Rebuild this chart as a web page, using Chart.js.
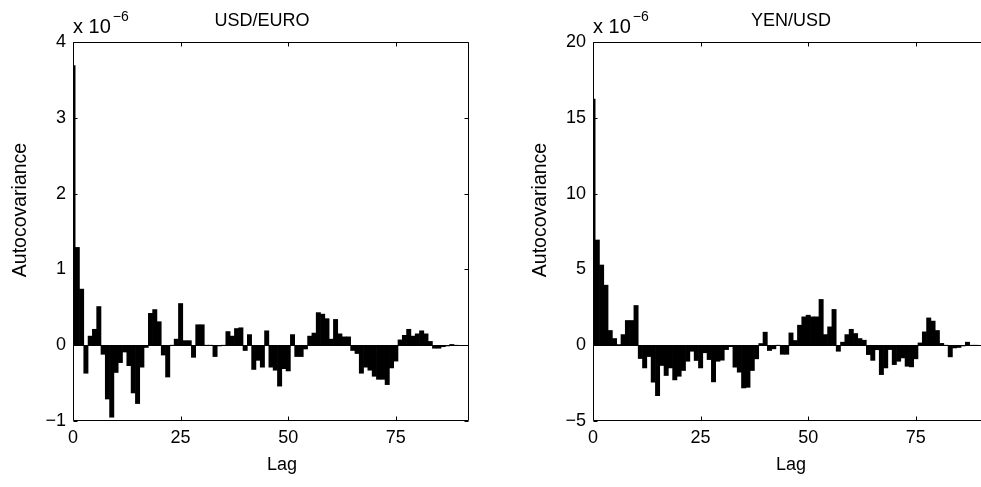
<!DOCTYPE html>
<html>
<head>
<meta charset="utf-8">
<script src="https://cdn.jsdelivr.net/npm/chart.js@4"></script>
<style>
  html, body { margin: 0; padding: 0; background: #fff; overflow: hidden; }
  body { width: 981px; height: 487px; position: relative; }
  canvas { position: absolute; top: 0; }
  #chart-left { left: 0; }
  #chart-right { left: 520px; }
</style>
</head>
<body>
<canvas id="chart-left" width="490" height="487"></canvas>
<canvas id="chart-right" width="490" height="487"></canvas>
<script>
// lag numbers (x axis)
const lags = [
  0, 1, 2, 3, 4, 5, 6, 7, 8, 9, 10, 11, 12, 13, 14, 15, 16, 17, 18, 19,
  20, 21, 22, 23, 24, 25, 26, 27, 28, 29, 30, 31, 32, 33, 34, 35, 36, 37, 38, 39,
  40, 41, 42, 43, 44, 45, 46, 47, 48, 49, 50, 51, 52, 53, 54, 55, 56, 57, 58, 59,
  60, 61, 62, 63, 64, 65, 66, 67, 68, 69, 70, 71, 72, 73, 74, 75, 76, 77, 78, 79,
  80, 81, 82, 83, 84, 85, 86, 87, 88, 89
];

// autocovariance, in units of 1e-6
const usdEuro = [
  3.69, 1.29, 0.74, -0.37, 0.12, 0.21, 0.51, -0.12, -0.71, -0.95,
  -0.36, -0.23, -0.09, -0.27, -0.63, -0.77, -0.29, -0.03, 0.42, 0.47,
  0.31, -0.13, -0.42, 0.00, 0.08, 0.55, 0.06, 0.06, -0.16, 0.27,
  0.27, 0.00, 0.00, -0.15, -0.01, 0.00, 0.18, 0.12, 0.22, 0.23,
  -0.07, 0.14, -0.32, -0.20, -0.29, 0.19, -0.29, -0.33, -0.54, -0.31,
  -0.34, 0.14, -0.15, -0.15, -0.05, 0.12, 0.16, 0.43, 0.41, 0.35,
  0.08, 0.34, 0.15, 0.11, 0.11, -0.07, -0.11, -0.37, -0.29, -0.33,
  -0.41, -0.45, -0.45, -0.52, -0.30, -0.21, 0.07, 0.13, 0.21, 0.12,
  0.15, 0.19, 0.15, 0.05, -0.04, -0.04, -0.02, -0.01, 0.01, 0.00
];

const yenUsd = [
  16.23, 6.94, 5.29, 3.96, 0.97, 0.44, 0.04, 0.70, 1.63, 1.63,
  2.62, -0.88, -1.50, -0.75, -2.44, -3.33, -1.34, -2.00, -1.50, -2.29,
  -2.05, -1.67, -1.06, -0.40, -1.01, -1.50, -0.50, -0.95, -2.42, -1.06,
  -0.99, -0.29, -0.10, -1.45, -1.78, -2.82, -2.78, -1.67, -0.90, 0.11,
  0.86, -0.35, -0.24, 0.00, -0.60, -0.60, 0.81, 0.31, 1.32, 1.87,
  1.98, 1.87, 1.87, 3.02, 0.70, 1.21, 2.36, -0.40, 0.20, 0.70,
  1.05, 0.77, 0.44, 0.33, -0.62, -1.00, -0.30, -1.94, -1.50, -0.29,
  -1.28, -1.06, -0.84, -1.39, -1.43, -0.90, 0.15, 0.88, 1.80, 1.59,
  0.97, 0.12, 0.00, -0.77, -0.18, -0.15, -0.05, 0.20, 0.00, 0.00
];

// tick labels
const lagTicks = [0, 25, 50, 75];
const usdEuroTicks = [-1, 0, 1, 2, 3, 4];
const yenUsdTicks = [-5, 0, 5, 10, 15, 20];

const FONT = '"Liberation Sans", Arial, Helvetica, sans-serif';
Chart.defaults.font.family = FONT;
Chart.defaults.font.size = 18;
Chart.defaults.color = '#000';

const minus = v => String(v).replace('-', '\u2212');

// MATLAB style box: border, inward ticks, exponent, title and axis labels
const axesBox = {
  id: 'axesBox',
  afterDraw(chart, args, opts) {
    const { ctx, chartArea: a, scales: { x, y } } = chart;
    const l = Math.round(a.left) + 0.5, r = Math.round(a.right) - 0.5;
    const t = Math.round(a.top) + 0.5, b = Math.round(a.bottom) - 0.5;
    const len = 4;
    ctx.save();
    ctx.strokeStyle = '#000';
    ctx.lineWidth = 1;
    ctx.beginPath();
    ctx.rect(l, t, r - l, b - t);
    x.ticks.forEach(tk => {
      const px = Math.round(x.getPixelForValue(tk.value)) + 0.5;
      ctx.moveTo(px, b); ctx.lineTo(px, b - len);
      ctx.moveTo(px, t); ctx.lineTo(px, t + len);
    });
    y.ticks.forEach(tk => {
      const py = Math.round(y.getPixelForValue(tk.value)) + 0.5;
      ctx.moveTo(l, py); ctx.lineTo(l + len, py);
      ctx.moveTo(r, py); ctx.lineTo(r - len, py);
    });
    ctx.stroke();

    ctx.fillStyle = '#000';
    ctx.textAlign = 'left';
    ctx.textBaseline = 'alphabetic';
    ctx.font = '20px ' + FONT;
    ctx.fillText('x 10', a.left, 33);
    const w = ctx.measureText('x 10').width;
    ctx.font = '14px ' + FONT;
    ctx.fillText('\u22126', a.left + w + 2, 21);

    ctx.font = '18px ' + FONT;
    ctx.textAlign = 'center';
    ctx.fillText(opts.title, opts.titleX, 26);

    ctx.textBaseline = 'middle';
    ctx.fillText('Lag', opts.lagX, 465);

    ctx.font = '19.5px ' + FONT;
    ctx.translate(21, 210);
    ctx.rotate(-Math.PI / 2);
    ctx.fillText('Autocovariance', 0, 0);
    ctx.restore();
  }
};

function makeChart(canvasId, values, yTicks, title, titleX, lagX) {
  return new Chart(document.getElementById(canvasId), {
    type: 'bar',
    data: {
      datasets: [{
        data: lags.map((lag, i) => ({ x: lag, y: values[i] })),
        backgroundColor: '#000',
        borderColor: '#000',
        borderWidth: 0,
        barPercentage: 1,
        categoryPercentage: 1,
      }],
    },
    options: {
      responsive: false,
      animation: false,
      devicePixelRatio: 1,
      layout: { padding: { top: 42, right: 21, bottom: 0, left: 0 } },
      plugins: {
        legend: { display: false },
        tooltip: { enabled: false },
        axesBox: { title: title, titleX: titleX, lagX: lagX },
      },
      scales: {
        x: {
          type: 'linear',
          min: 0,
          max: 92,
          offset: false,
          afterFit: s => { s.height = 66; },
          afterBuildTicks: s => { s.ticks = lagTicks.map(v => ({ value: v })); },
          grid: { display: false, drawTicks: false },
          border: { display: false },
          ticks: { autoSkip: false, maxRotation: 0, padding: 6 },
        },
        y: {
          min: yTicks[0],
          max: yTicks[yTicks.length - 1],
          afterFit: s => { s.width = 73; },
          afterBuildTicks: s => { s.ticks = yTicks.map(v => ({ value: v })); },
          grid: {
            drawTicks: false,
            color: ctx => (ctx.tick && ctx.tick.value === 0 ? '#000' : 'rgba(0,0,0,0)'),
          },
          border: { display: false },
          ticks: { padding: 7, callback: v => minus(v) },
        },
      },
    },
    plugins: [axesBox],
  });
}

makeChart('chart-left', usdEuro, usdEuroTicks, 'USD/EURO', 262, 282);
makeChart('chart-right', yenUsd, yenUsdTicks, 'YEN/USD', 271, 271);
</script>
</body>
</html>
